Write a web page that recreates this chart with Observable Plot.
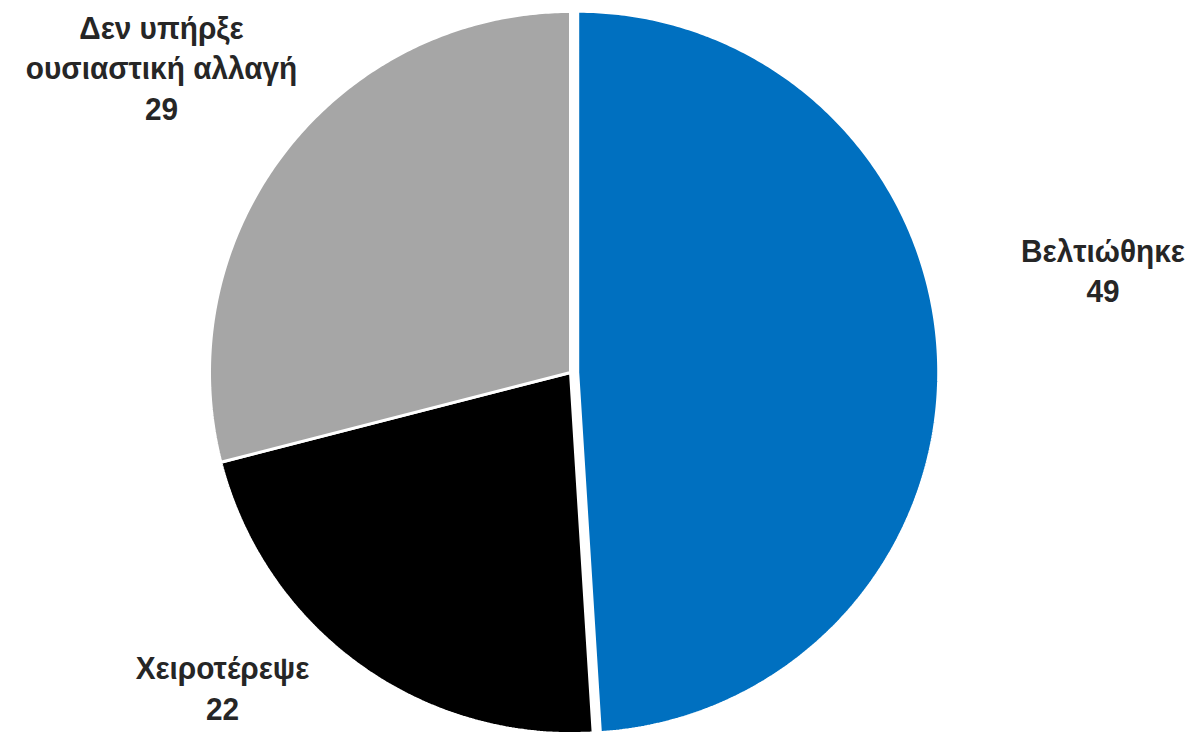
<!DOCTYPE html>
<html>
<head>
<meta charset="utf-8">
<script src="https://cdn.jsdelivr.net/npm/d3@7"></script>
<script src="https://cdn.jsdelivr.net/npm/@observablehq/plot@0.6"></script>
<style>
  html, body { margin: 0; padding: 0; background: #ffffff; }
  #chart svg { display: block; }
</style>
</head>
<body>
<div id="chart"></div>
<script>
// ---- data ----
const categories = ["Βελτιώθηκε", "Χειροτέρεψε", "Δεν υπήρξε ουσιαστική αλλαγή"];
const values = [49, 22, 29];
const labelTexts = ["Βελτιώθηκε", "Χειροτέρεψε", "Δεν υπήρξε\nουσιαστική αλλαγή"];

// ---- style / layout ----
const colors = ["#0070C0", "#000000", "#A6A6A6"];
const explode = [0.02, 0, 0];            // radial offset (in radius units)
const labelPos = [[1.475, 0.385], [-0.964, -0.771], [-1.133, 1.003]]; // cap-top anchor, radius units
const narrow = 0.96;                      // horizontal condensing of the label font

const W = 1194, H = 734;
const cx = 570, cy = 372, R = 361;

const rows = categories.map((c, i) => ({name: c, value: values[i]}));
const arcs = d3.pie().sort(null).value(d => d.value).startAngle(0).endAngle(2 * Math.PI)(rows);

// Build slice outlines (center -> arc -> center) in unit-circle coordinates
const pts = [];
arcs.forEach((a, i) => {
  const mid = (a.startAngle + a.endAngle) / 2;
  const ox = explode[i] * Math.sin(mid), oy = explode[i] * Math.cos(mid);
  const name = a.data.name;
  pts.push({name, x: ox, y: oy});
  const n = Math.max(2, Math.ceil((a.endAngle - a.startAngle) / (Math.PI / 360)));
  for (let k = 0; k <= n; k++) {
    const t = a.startAngle + (a.endAngle - a.startAngle) * k / n;
    pts.push({name, x: ox + Math.sin(t), y: oy + Math.cos(t)});
  }
  pts.push({name, x: ox, y: oy});
});

const labels = rows.map((r, i) => ({
  name: r.name,
  text: labelTexts[i] + "\n" + r.value,
  x: labelPos[i][0],
  y: labelPos[i][1]
}));

const chart = Plot.plot({
  width: W,
  height: H,
  margin: 0,
  style: {background: "#ffffff", overflow: "visible"},
  x: {domain: [-1, 1], range: [cx - R, cx + R], axis: null},
  y: {domain: [-1, 1], range: [cy + R, cy - R], axis: null},
  color: {domain: categories, range: colors},
  marks: [
    Plot.line(pts, {
      x: "x", y: "y", z: "name", fill: "name",
      stroke: "#ffffff", strokeWidth: 3, strokeLinejoin: "miter", curve: "linear"
    }),
    Plot.text(labels, {
      x: "x", y: "y", text: "text",
      textAnchor: "middle", lineAnchor: "top", lineHeight: 1.3,
      fontSize: 31, fontWeight: "bold",
      fontFamily: "'Liberation Sans', Arial, sans-serif",
      fill: "#262626"
    })
  ]
});

// condense the label glyphs slightly (narrow bold look)
d3.select(chart).selectAll("g[aria-label=text] text").each(function() {
  const t = this.getAttribute("transform") || "";
  this.setAttribute("transform", t + ` scale(${narrow},1)`);
});

document.getElementById("chart").appendChild(chart);
</script>
</body>
</html>
